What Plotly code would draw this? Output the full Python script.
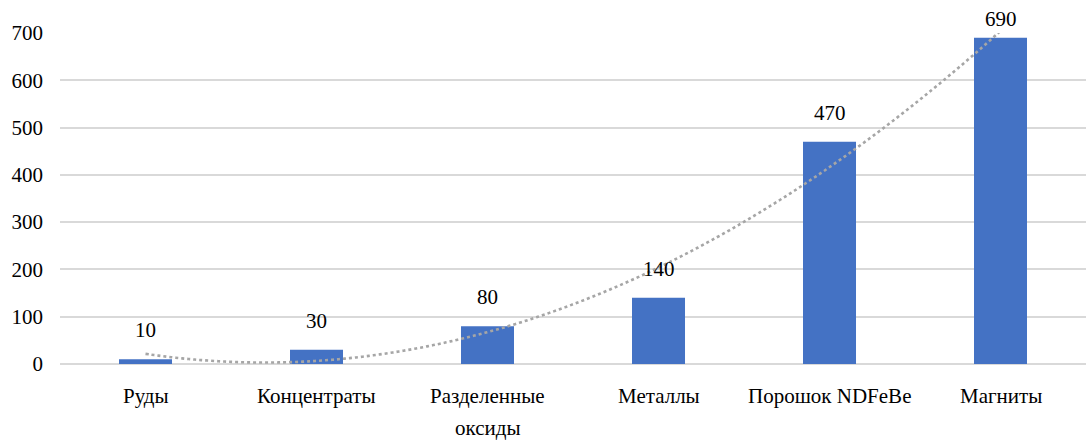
import numpy as np
import plotly.graph_objects as go

# Production chain stages and their values
stages = ["Руды", "Концентраты", "Разделенные<br>оксиды", "Металлы", "Порошок NDFeBe", "Магниты"]
values = [10, 30, 80, 140, 470, 690]
y_ticks = [0, 100, 200, 300, 400, 500, 600, 700]

FONT = "Liberation Serif"
BAR_BLUE = "#4472C4"
GRID = "#D9D9D9"
Y_MAX = 700

idx = np.arange(len(stages))

fig = go.Figure()

fig.add_trace(go.Bar(
    x=idx, y=values, width=0.31,
    marker=dict(color=BAR_BLUE, line=dict(width=0)),
    showlegend=False, hoverinfo="y",
))

# Second-order polynomial trendline through the bar values
coef = np.polyfit(idx, values, 2)
tx = np.linspace(idx[0], idx[-1], 200)
ty = np.polyval(coef, tx)
fig.add_trace(go.Scatter(
    x=tx, y=ty, mode="lines",
    line=dict(color="#A6A6A6", width=2.6, dash="dot", shape="spline"),
    showlegend=False, hoverinfo="skip",
    cliponaxis=False,
))

# Value labels above each bar; a label that would leave the chart area
# is pinned to its top edge instead
gap_units = 32
for i, v in zip(idx, values):
    y_lab = v + gap_units
    if y_lab > Y_MAX:
        y_lab = Y_MAX
    fig.add_annotation(
        x=int(i), y=y_lab, text=str(v),
        showarrow=False, yanchor="bottom", xanchor="center",
        font=dict(family=FONT, size=21, color="#000000"),
    )

# Category labels under the axis, one text per line with wider line spacing
LABEL_TOP = 18
LINE_STEP = 32
for i, name in zip(idx, stages):
    for k, line in enumerate(name.split("<br>")):
        fig.add_annotation(
            x=int(i), y=0, xref="x", yref="paper", text=line,
            showarrow=False, yanchor="top", xanchor="center",
            yshift=-(LABEL_TOP + k * LINE_STEP),
            font=dict(family=FONT, size=21, color="#000000"),
        )

fig.update_layout(
    width=1087, height=445,
    margin=dict(l=60, r=1, t=33, b=81),
    paper_bgcolor="white", plot_bgcolor="white",
    font=dict(family=FONT, size=21, color="#000000"),
)
fig.update_xaxes(
    range=[-0.5, len(stages) - 0.5],
    tickmode="array", tickvals=idx.tolist(), showticklabels=False,
    showgrid=False, zeroline=False, showline=False, ticks="",
)
fig.update_yaxes(
    range=[0, Y_MAX], tickmode="array", tickvals=y_ticks,
    showgrid=True, gridcolor=GRID, gridwidth=2,
    zeroline=True, zerolinecolor=GRID, zerolinewidth=2,
    showline=False, ticks="", ticklabelstandoff=16,
    tickfont=dict(family=FONT, size=21, color="#000000"),
)

fig.write_html("out.html")
